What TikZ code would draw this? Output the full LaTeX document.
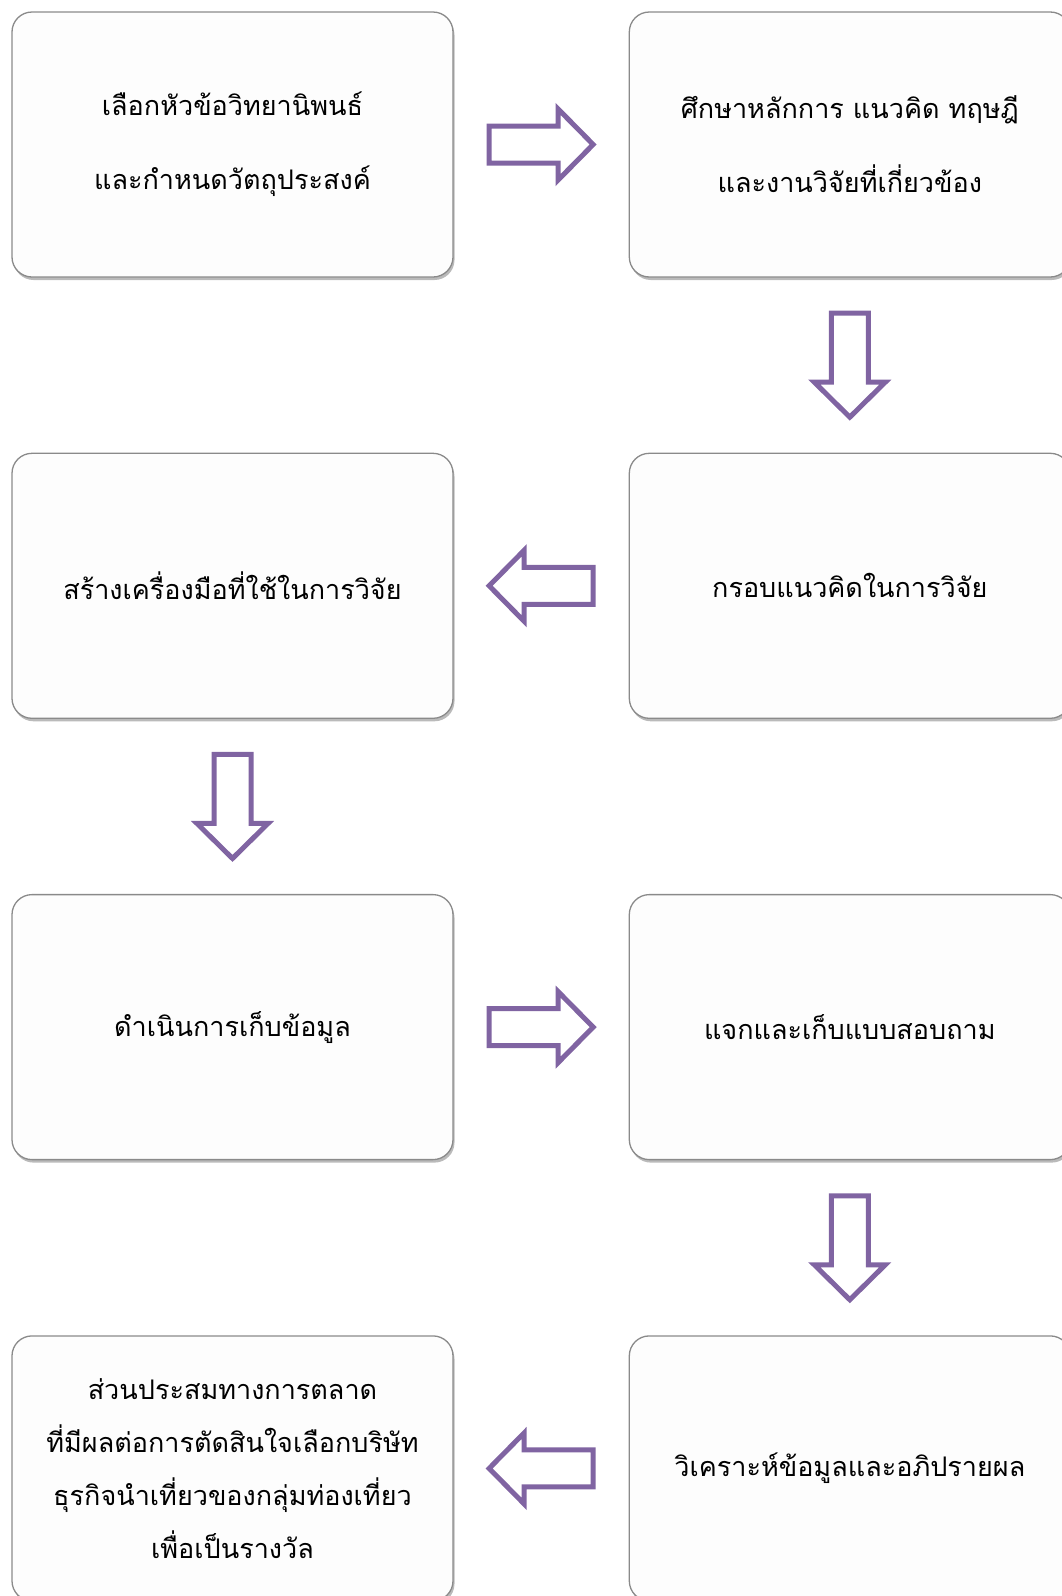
\documentclass[tikz,border=0pt]{standalone}
\usepackage{fontspec}
\usepackage{tikz}
\usetikzlibrary{positioning,calc,shadows}
\newfontfamily\thaifont[Script=Thai]{Loma}
\definecolor{arw}{HTML}{8064A2}
\definecolor{edge}{HTML}{8A8A8A}
\definecolor{paper}{HTML}{FDFDFD}
\tikzset{
  box/.style={draw=edge,line width=1.3pt,rounded corners=20pt,fill=paper,align=center,
    minimum width=441pt,minimum height=265pt,inner sep=0pt,
    font=\thaifont\fontsize{27}{74}\selectfont,
    drop shadow={shadow xshift=1.5pt,shadow yshift=-3pt,opacity=0.45,fill=black!60}},
  arrowline/.style={draw=arw,line width=5pt,line join=miter,fill=white},
  flowarrow/.pic={\draw[arrowline] (-52pt,18.5pt) -- (17pt,18.5pt) -- (17pt,35.5pt) -- (52pt,0pt)
    -- (17pt,-35.5pt) -- (17pt,-18.5pt) -- (-52pt,-18.5pt) -- cycle;},
}
\begin{document}
\begin{tikzpicture}[x=1pt,y=1pt,node distance=175pt]
\useasboundingbox (0,0) rectangle (1062,-1596);
\clip (0,0) rectangle (1062,-1596);
\node[box] (topic) at (232.5,-144.5) {เลือกหัวข้อวิทยานิพนธ์\\และกำหนดวัตถุประสงค์};
\node[box,right=of topic] (theory) {ศึกษาหลักการ แนวคิด ทฤษฎี\\และงานวิจัยที่เกี่ยวข้อง};
\node[box,below=of theory] (frame) {กรอบแนวคิดในการวิจัย};
\node[box,below=of topic] (tool) {สร้างเครื่องมือที่ใช้ในการวิจัย};
\node[box,below=of tool] (collect) {ดำเนินการเก็บข้อมูล};
\node[box,below=of frame] (survey) {แจกและเก็บแบบสอบถาม};
\node[box,below=of survey] (analyze) {วิเคราะห์ข้อมูลและอภิปรายผล};
\node[box,below=of collect,font=\thaifont\fontsize{27}{53}\selectfont] (result)
  {ส่วนประสมทางการตลาด\\ที่มีผลต่อการตัดสินใจเลือกบริษัท\\ธุรกิจนำเที่ยวของกลุ่มท่องเที่ยว\\เพื่อเป็นรางวัล};
% block arrows between the steps
\pic at ($(topic)!0.5!(theory)$) {flowarrow};
\pic[rotate=-90] at ($(theory)!0.5!(frame)$) {flowarrow};
\pic[rotate=180] at ($(frame)!0.5!(tool)$) {flowarrow};
\pic[rotate=-90] at ($(tool)!0.5!(collect)$) {flowarrow};
\pic at ($(collect)!0.5!(survey)$) {flowarrow};
\pic[rotate=-90] at ($(survey)!0.5!(analyze)$) {flowarrow};
\pic[rotate=180] at ($(analyze)!0.5!(result)$) {flowarrow};
\end{tikzpicture}
\end{document}
